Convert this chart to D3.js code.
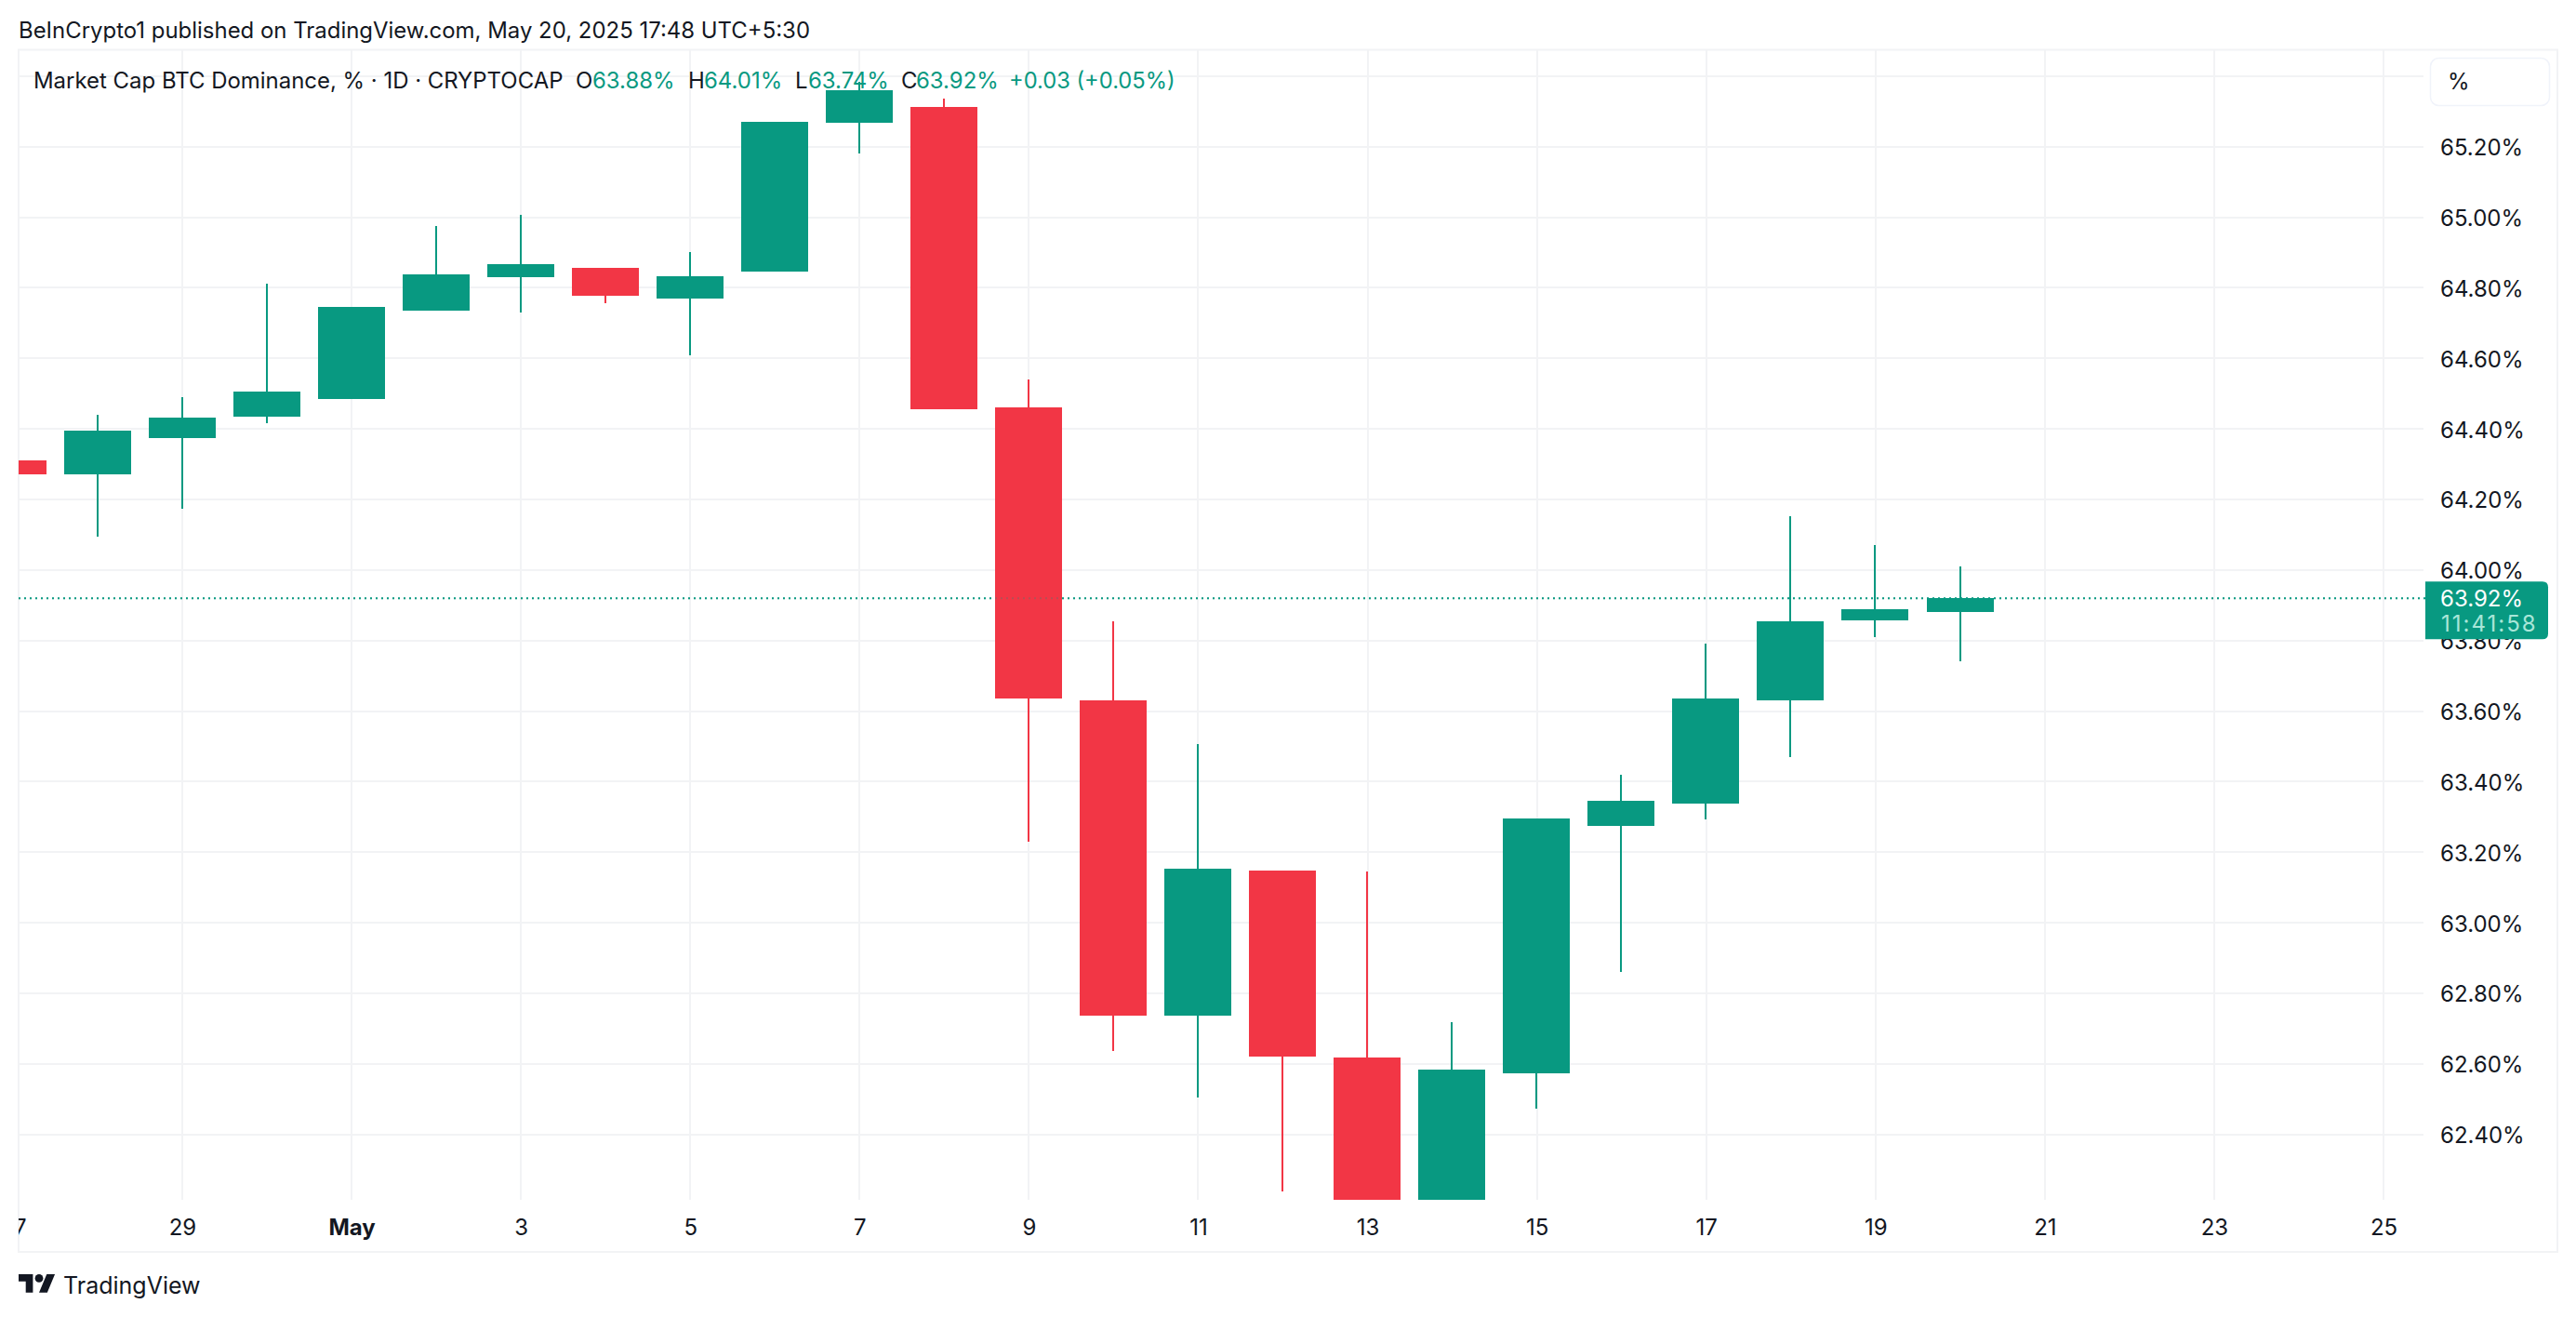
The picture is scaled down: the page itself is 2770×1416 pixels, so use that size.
<!DOCTYPE html>
<html>
<head>
<meta charset="utf-8">
<script src="https://cdn.jsdelivr.net/npm/d3@7"></script>
<style>
html,body{margin:0;padding:0;background:#fff;}
svg{display:block;}
text{font-family:Inter,"Liberation Sans",sans-serif;fill:#131722;}
</style>
</head>
<body>
<svg id="c" width="2770" height="1416"></svg>
<script>
const dates = ["2025-04-27","2025-04-28","2025-04-29","2025-04-30","2025-05-01","2025-05-02","2025-05-03","2025-05-04","2025-05-05","2025-05-06","2025-05-07","2025-05-08","2025-05-09","2025-05-10","2025-05-11","2025-05-12","2025-05-13","2025-05-14","2025-05-15","2025-05-16","2025-05-17","2025-05-18","2025-05-19","2025-05-20"];
const opens  = [64.311,64.271,64.374,64.435,64.485,64.735,64.830,64.856,64.769,64.846,65.268,65.313,64.461,63.631,62.737,63.148,62.618,62.190,62.573,63.275,63.338,63.631,63.857,63.880];
const highs  = [64.311,64.440,64.490,64.812,64.746,64.975,65.007,64.856,64.901,65.270,65.384,65.336,64.540,63.855,63.507,63.148,63.145,62.718,63.296,63.420,63.791,64.153,64.071,64.010];
const lows   = [64.271,64.095,64.174,64.416,64.485,64.735,64.730,64.756,64.609,64.846,65.181,64.456,63.230,62.637,62.505,62.238,62.190,62.190,62.473,62.861,63.293,63.470,63.810,63.740];
const closes = [64.271,64.395,64.432,64.506,64.746,64.838,64.867,64.777,64.833,65.270,65.360,64.456,63.636,62.737,63.153,62.621,62.190,62.584,63.296,63.346,63.636,63.855,63.889,63.920];

const timeTicks = ["2025-04-27","2025-04-29","2025-05-01","2025-05-03","2025-05-05","2025-05-07","2025-05-09","2025-05-11","2025-05-13","2025-05-15","2025-05-17","2025-05-19","2025-05-21","2025-05-23","2025-05-25"];
const timeLabels = ["27","29","May","3","5","7","9","11","13","15","17","19","21","23","25"];
const priceTicks = [65.4,65.2,65.0,64.8,64.6,64.4,64.2,64.0,63.8,63.6,63.4,63.2,63.0,62.8,62.6,62.4];

const lastPrice = 63.92;
const lastPriceLabel = "63.92%";
const countdownLabel = "11:41:58";
const headerText = "BeInCrypto1 published on TradingView.com, May 20, 2025 17:48 UTC+5:30";
const legendTitle = "Market Cap BTC Dominance, % · 1D · CRYPTOCAP";
const legendKeys = ["O","H","L","C"];
const legendVals = ["63.88%","64.01%","63.74%","63.92%"];
const legendChange = "+0.03 (+0.05%)";

const UP="#089981", DOWN="#f23645", GRID="#f2f3f5", INK="#131722";
const parse = d3.utcParse("%Y-%m-%d");
const pane = {l:20, r:2606, t:54, b:1290, outerR:2750, outerB:1346};

const x = d3.scaleUtc().domain([parse("2025-04-29"),parse("2025-05-25")]).range([196,2563]);
const y = d3.scaleLinear().domain([65.2,62.4]).range([157.7,1219.7]);
const cx = d => Math.round(x(d)-0.3);

const svg = d3.select("#c");
const defs = svg.append("defs");
defs.append("clipPath").attr("id","pane").append("rect").attr("x",pane.l).attr("y",pane.t).attr("width",pane.r-pane.l).attr("height",pane.b-pane.t);
defs.append("clipPath").attr("id","pane2").append("rect").attr("x",pane.l).attr("y",pane.t).attr("width",pane.outerR-pane.l).attr("height",pane.b-pane.t);
defs.append("clipPath").attr("id","taxis").append("rect").attr("x",pane.l).attr("y",pane.b).attr("width",pane.outerR-pane.l).attr("height",pane.outerB-pane.b);

svg.append("rect").attr("width",2770).attr("height",1416).attr("fill","#fff");

// header
svg.append("text").attr("x",20).attr("y",33).attr("dy","0.35em").attr("font-size",23.95).text(headerText);

// frame
svg.append("rect").attr("x",pane.l).attr("y",pane.t-0.5).attr("width",pane.outerR-pane.l).attr("height",pane.outerB-pane.t+0.5)
  .attr("fill","none").attr("stroke",GRID).attr("stroke-width",2);

// grid
const grid = svg.append("g").attr("shape-rendering","crispEdges");
grid.selectAll(".h").data(priceTicks).join("line").attr("class","h")
  .attr("x1",pane.l).attr("x2",pane.r).attr("y1",d=>y(d)).attr("y2",d=>y(d))
  .attr("stroke",GRID).attr("stroke-width",2);
grid.selectAll(".v").data(timeTicks).join("line").attr("class","v")
  .attr("x1",d=>x(parse(d))).attr("x2",d=>x(parse(d))).attr("y1",pane.t).attr("y2",pane.b)
  .attr("stroke",GRID).attr("stroke-width",2).attr("clip-path","url(#pane2)");

// last price line below the candles
const priceLine = g=>g.append("line").attr("x1",pane.l).attr("x2",2608).attr("y1",y(lastPrice)).attr("y2",y(lastPrice))
  .attr("stroke",UP).attr("stroke-width",2).attr("stroke-dasharray","2 4");
priceLine(svg.append("g"));

// candles
const candles = dates.map((d,i)=>({d:parse(d),o:opens[i],h:highs[i],l:lows[i],c:closes[i]}));
const cg = svg.append("g").attr("clip-path","url(#pane)").attr("shape-rendering","crispEdges");
const color = d=>d.c>=d.o?UP:DOWN;
cg.selectAll(".wick").data(candles).join("rect").attr("class","wick")
  .attr("x",d=>cx(d.d)-1).attr("width",2)
  .attr("y",d=>y(d.h)).attr("height",d=>y(d.l)-y(d.h)).attr("fill",color);
cg.selectAll(".body").data(candles).join("rect").attr("class","body")
  .attr("x",d=>cx(d.d)-36).attr("width",72)
  .attr("y",d=>y(Math.max(d.o,d.c))).attr("height",d=>Math.abs(y(d.o)-y(d.c))).attr("fill",color);

// faint part of the price line over the candles
priceLine(svg.append("g").attr("opacity",0.25));

// price axis
const yAxis = d3.axisRight(y).tickValues(priceTicks).tickSize(0).tickPadding(0).tickFormat(d=>d.toFixed(2)+"%");
const ya = svg.append("g").attr("transform","translate(2624,0)").call(yAxis);
ya.select(".domain").remove();
ya.selectAll("text").attr("font-size",24).attr("fill",INK).attr("dy","0.37em");
ya.selectAll(".tick").filter(d=>d===65.4).remove();
ya.attr("font-family",null).attr("font-size",null);

// time axis
const xAxis = d3.axisBottom(x).tickValues(timeTicks.map(parse)).tickSize(0).tickPadding(0)
  .tickFormat((d,i)=>timeLabels[i]);
const xa = svg.append("g").attr("clip-path","url(#taxis)");
const xaInner = xa.append("g").attr("transform","translate(0,1320)").call(xAxis);
xaInner.attr("font-family",null).attr("font-size",null);
xaInner.select(".domain").remove();
xaInner.selectAll("text").attr("font-size",24).attr("fill",INK).attr("y",0).attr("dy","0.35em")
  .attr("font-weight",(d,i)=>timeLabels[i]==="May"?700:400);

// legend
const lg = svg.append("g").attr("font-size",23.95);
const ly = 87;
lg.append("text").attr("x",36).attr("y",ly).attr("dy","0.35em").text(legendTitle);
const keyX=[619,740,855,969], valX=[637,757,869,985];
legendKeys.forEach((k,i)=>{
  lg.append("text").attr("x",keyX[i]).attr("y",ly).attr("dy","0.35em").text(k);
  lg.append("text").attr("x",valX[i]).attr("y",ly).attr("dy","0.35em").style("fill",UP).text(legendVals[i]);
});
lg.append("text").attr("x",1085).attr("y",ly).attr("dy","0.35em").attr("font-size",23.7).style("fill",UP).text(legendChange);

// unit box
svg.append("rect").attr("x",2613.5).attr("y",62.5).attr("width",128).attr("height",51).attr("rx",9)
  .attr("fill","#fff").attr("stroke","#f0f3fa").attr("stroke-width",1.5);
svg.append("text").attr("x",2632).attr("y",88).attr("dy","0.35em").attr("font-size",24).text("%");

// price badge
const by=y(lastPrice)-18, bh=62, bx=2608, bw=132, br=6;
svg.append("path").attr("fill",UP)
  .attr("d",`M${bx},${by}H${bx+bw-br}Q${bx+bw},${by} ${bx+bw},${by+br}V${by+bh-br}Q${bx+bw},${by+bh} ${bx+bw-br},${by+bh}H${bx}Z`);
svg.append("text").attr("x",2624).attr("y",y(lastPrice)).attr("dy","0.35em").attr("font-size",24).style("fill","#fff").text(lastPriceLabel);
svg.append("text").attr("x",2625).attr("y",y(lastPrice)+27).attr("dy","0.35em").attr("font-size",24).attr("letter-spacing",2).style("fill","#a8e6d8").text(countdownLabel);

// footer logo
const logo = svg.append("g").attr("transform","translate(20,1365.6) scale(1.1)").attr("fill",INK);
logo.append("path").attr("d","M14 22H7V11H0V4h14v18zM28 22h-8l7.5-18h8L28 22z");
logo.append("circle").attr("cx",20).attr("cy",8).attr("r",4);
svg.append("text").attr("x",68).attr("y",1382).attr("dy","0.35em").attr("font-size",25).text("TradingView");
</script>
</body>
</html>
